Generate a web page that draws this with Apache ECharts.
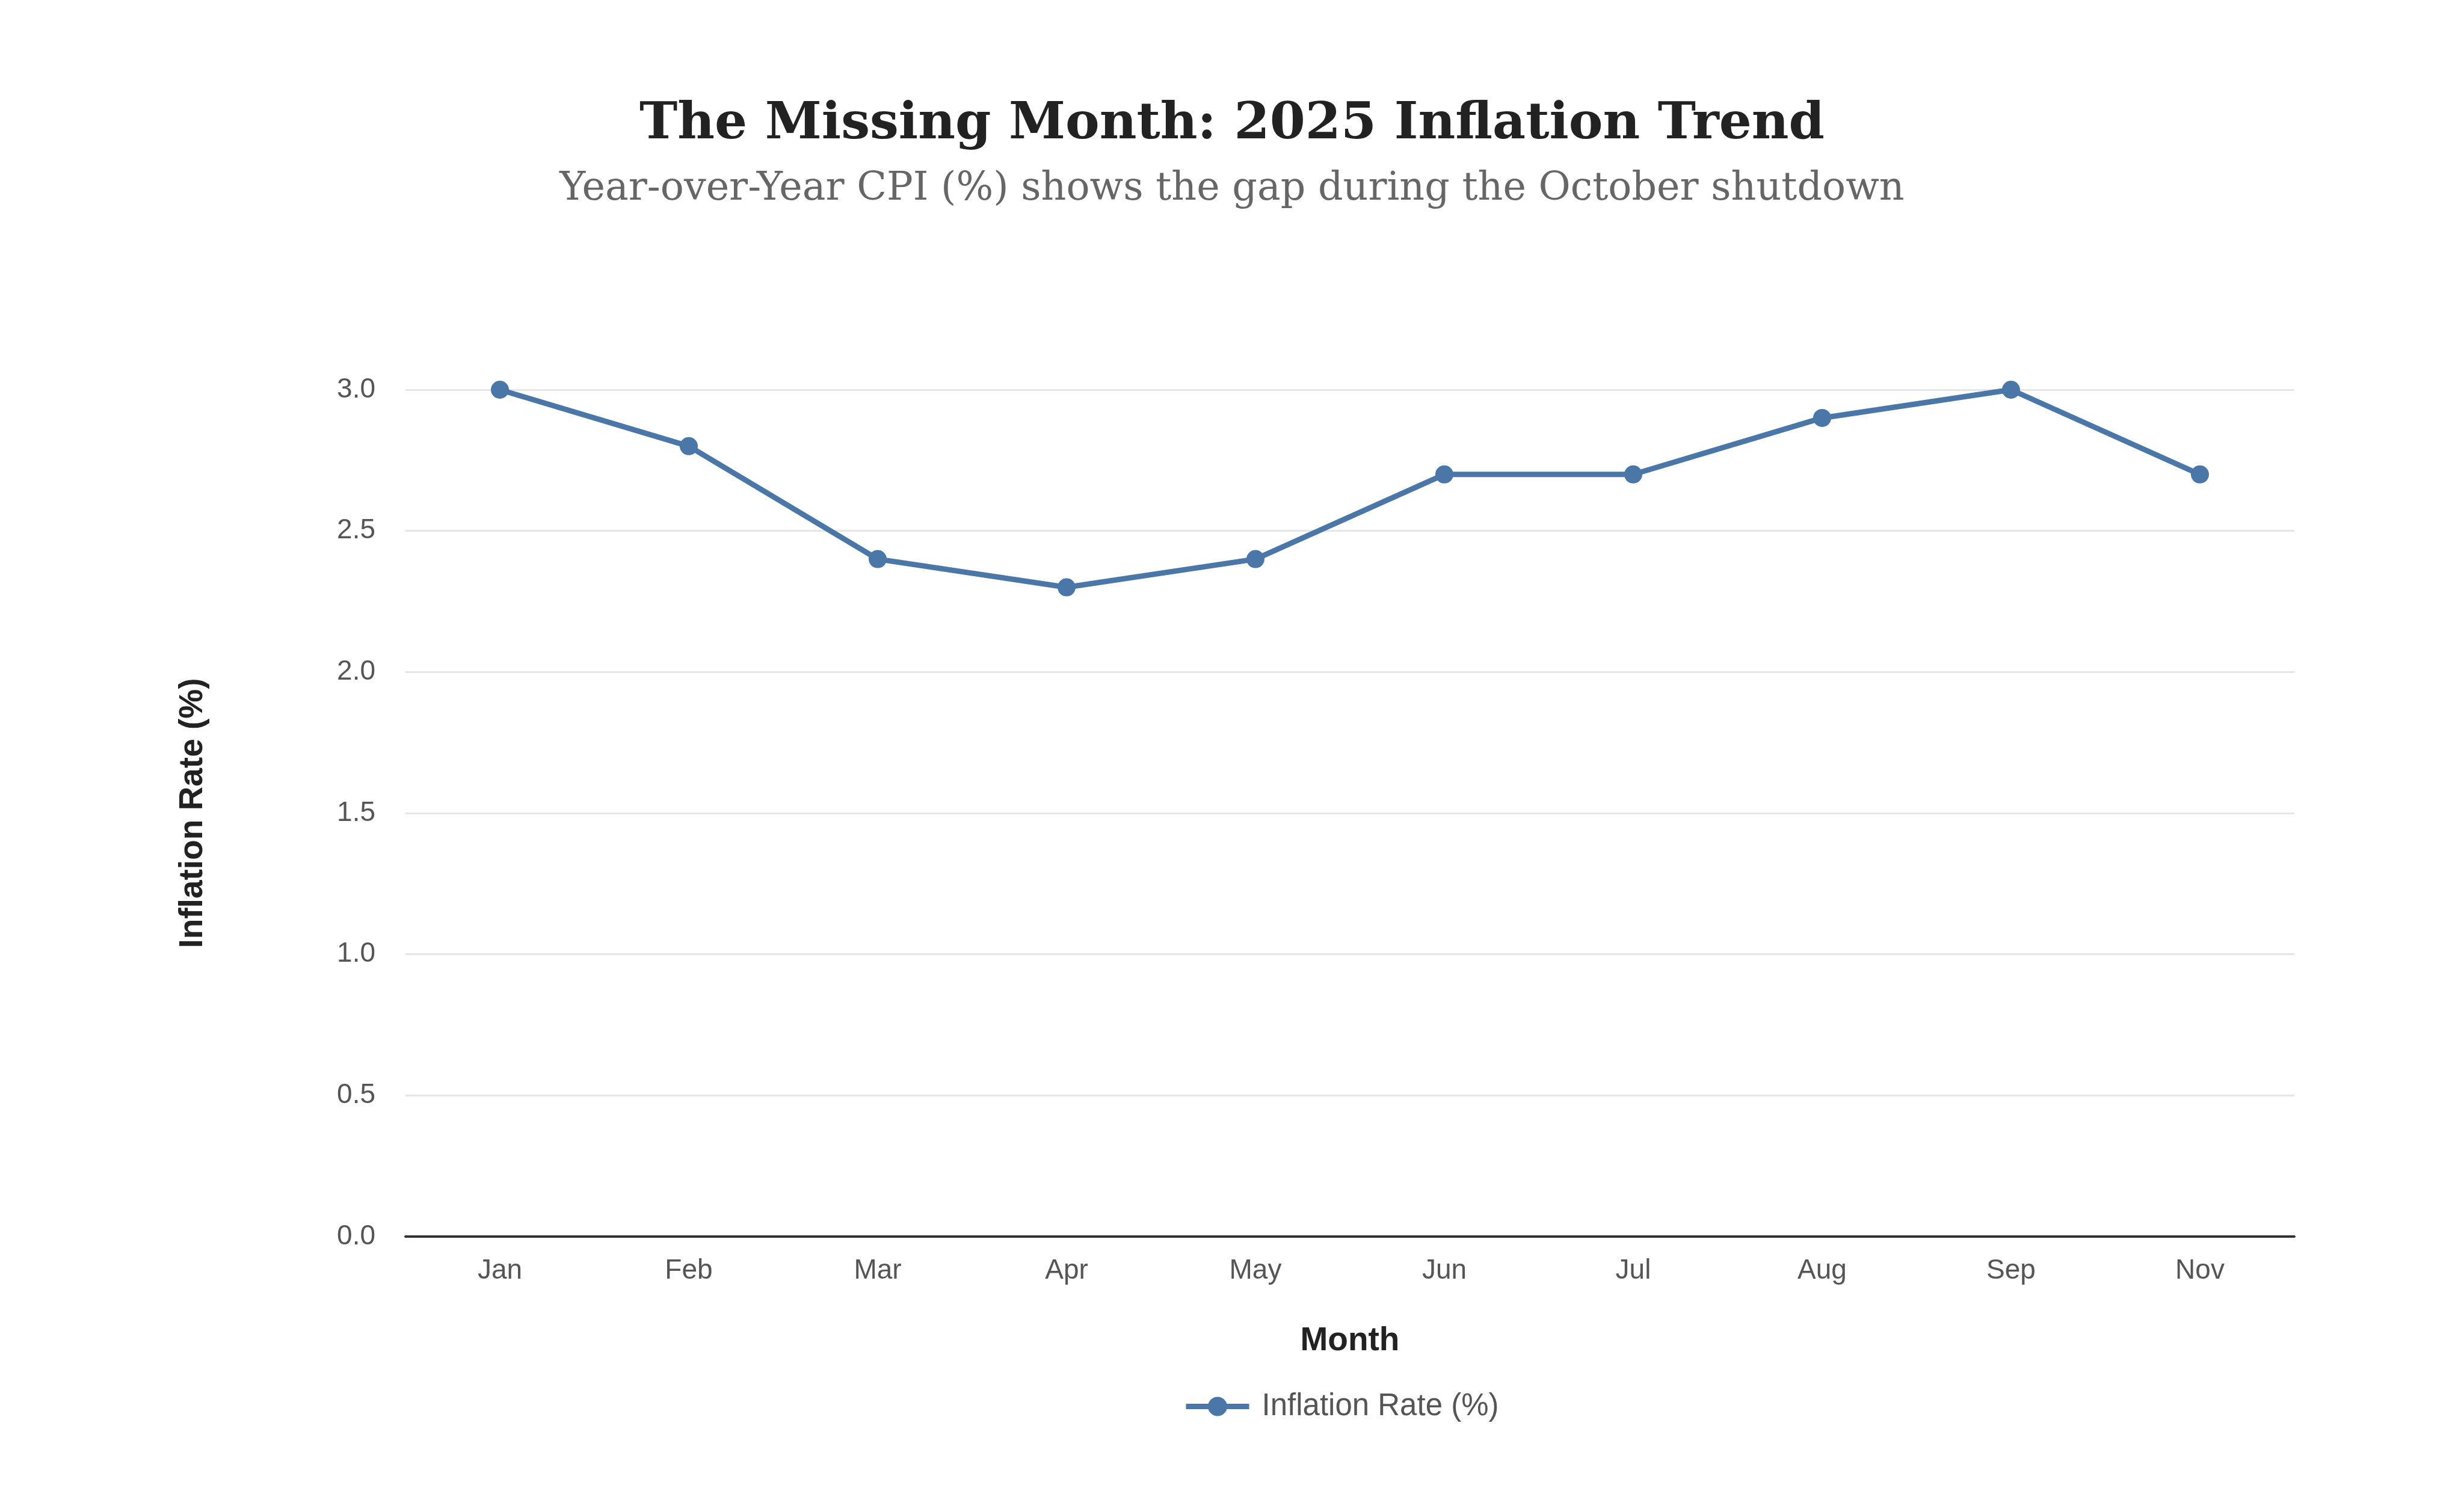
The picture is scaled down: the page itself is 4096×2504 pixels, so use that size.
<!DOCTYPE html>
<html>
<head>
<meta charset="utf-8">
<script src="https://cdn.jsdelivr.net/npm/echarts@6/dist/echarts.min.js"></script>
<style>
html,body{margin:0;padding:0;background:#fff;}
#chart{width:4096px;height:2504px;}
</style>
</head>
<body>
<div id="chart"></div>
<script>
const months = ['Jan','Feb','Mar','Apr','May','Jun','Jul','Aug','Sep','Nov'];
const inflation = [3.0, 2.8, 2.4, 2.3, 2.4, 2.7, 2.7, 2.9, 3.0, 2.7];
const seriesName = 'Inflation Rate (%)';
const titleText = 'The Missing Month: 2025 Inflation Trend';
const subtitleText = 'Year-over-Year CPI (%) shows the gap during the October shutdown';

const chart = echarts.init(document.getElementById('chart'), null, {renderer:'canvas'});
chart.setOption({
  backgroundColor:'#ffffff',
  animation:false,
  title:[
    {text:titleText, left:'center', top:160,
     textStyle:{fontFamily:'DejaVu Serif', fontWeight:'bold', fontSize:85, color:'#222222'}},
    {text:subtitleText, left:'center', top:278,
     textStyle:{fontFamily:'DejaVu Serif', fontWeight:'normal', fontSize:65, color:'#666666'}}
  ],
  grid:{left:674, right:282, top:648, bottom:448, containLabel:false},
  legend:{
    data:[seriesName], left:1962, top:2308,
    itemWidth:105, itemHeight:40, itemGap:20,
    lineStyle:{width:9},
    textStyle:{fontFamily:'Liberation Sans', fontSize:51, color:'#555555', padding:[0,0,0,16]}
  },
  xAxis:{
    type:'category', data:months, boundaryGap:true,
    name:'Month', nameLocation:'middle', nameGap:146,
    nameTextStyle:{fontFamily:'Liberation Sans', fontWeight:'bold', fontSize:55, color:'#222222'},
    axisLine:{show:true, lineStyle:{color:'#333333', width:4}},
    axisTick:{show:false},
    axisLabel:{fontFamily:'Liberation Sans', fontSize:46, color:'#555555', margin:34}
  },
  yAxis:{
    type:'value', min:0, max:3, interval:0.5,
    name:'Inflation Rate (%)', nameLocation:'middle', nameGap:326, nameRotate:90,
    nameTextStyle:{fontFamily:'Liberation Sans', fontWeight:'bold', fontSize:55, color:'#222222'},
    axisLine:{show:false}, axisTick:{show:false},
    axisLabel:{fontFamily:'Liberation Sans', fontSize:46, color:'#555555', margin:50,
      formatter:function(v){return v.toFixed(1);}},
    splitLine:{show:true, lineStyle:{color:'#e6e6e6', width:3}}
  },
  series:[{
    name:seriesName, type:'line', data:inflation,
    symbol:'circle', symbolSize:30,
    lineStyle:{color:'#4a77a8', width:9},
    itemStyle:{color:'#4a77a8'}
  }]
});
</script>
</body>
</html>
